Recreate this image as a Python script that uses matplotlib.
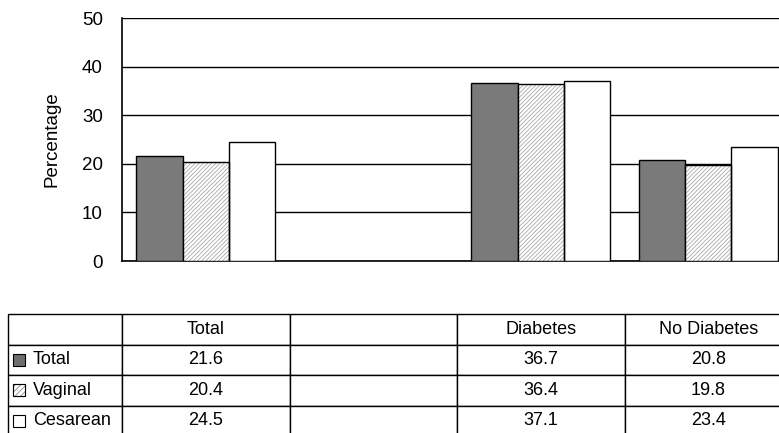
import numpy as np
import matplotlib
matplotlib.use("Agg")
import matplotlib.pyplot as plt
from matplotlib.patches import Rectangle

plt.rcParams['font.family'] = ['Liberation Sans', 'DejaVu Sans']
plt.rcParams['hatch.linewidth'] = 0.6

# Data
categories = ["Total", "", "Diabetes", "No Diabetes"]
series_names = ["Total", "Vaginal", "Cesarean"]
total_vals = [21.6, np.nan, 36.7, 20.8]
vaginal_vals = [20.4, np.nan, 36.4, 19.8]
cesarean_vals = [24.5, np.nan, 37.1, 23.4]
yticks = [0, 10, 20, 30, 40, 50]

W, H = 779, 433
fig = plt.figure(figsize=(W / 100, H / 100), dpi=100)

# plot area in pixel units (extends past the right edge of the canvas)
left_px, right_px, top_px, bot_px = 122, 792, 18, 261
ax = fig.add_axes([left_px / W, 1 - bot_px / H,
                   (right_px - left_px) / W, (bot_px - top_px) / H])

x = np.arange(len(categories))
bw = 0.2776
series = [total_vals, vaginal_vals, cesarean_vals]
offsets = [-bw, 0, bw]

ax.bar(x + offsets[0], total_vals, bw, color="#7a7a7a", edgecolor="black",
       linewidth=1, zorder=3)
ax.bar(x + offsets[1], vaginal_vals, bw, color="white", edgecolor="#a8a8a8",
       hatch="////////", linewidth=0, zorder=3)
ax.bar(x + offsets[1], vaginal_vals, bw, color="none", edgecolor="black",
       linewidth=1, zorder=4)
ax.bar(x + offsets[2], cesarean_vals, bw, color="white", edgecolor="black",
       linewidth=1, zorder=3)

ax.set_xlim(-0.5, len(categories) - 0.5)
ax.set_ylim(0, 50)
ax.set_yticks(yticks)
ax.set_yticklabels([str(t) for t in yticks], fontsize=13.5)
ax.tick_params(axis="y", length=0, pad=13.7)
ax.set_xticks([])
ax.yaxis.grid(True, color="black", linewidth=1)
ax.set_axisbelow(True)
for s in ["top", "right"]:
    ax.spines[s].set_visible(False)
ax.spines["left"].set_linewidth(1.2)
ax.spines["bottom"].set_linewidth(1.2)
ax.set_ylabel("Percentage", fontsize=13.5)
ax.yaxis.set_label_coords((60 - left_px) / (right_px - left_px), 0.5)

# data table below the plot
aw = right_px - left_px
ah = bot_px - top_px
tbl_left, tbl_top, row_h = 8, 314, 30.5
label_w = left_px - tbl_left
cell_text = [[""] + categories]
for name, vals in zip(series_names, series):
    cell_text.append([name] + ["" if np.isnan(v) else f"{v:.1f}" for v in vals])

col_w = [label_w / aw] + [1.0 / len(categories)] * len(categories)
tbl_h = 4 * row_h
tbl = ax.table(cellText=cell_text, colWidths=col_w, cellLoc="center",
               bbox=[(tbl_left - left_px) / aw, (bot_px - tbl_top - tbl_h) / ah,
                     sum(col_w), tbl_h / ah])
tbl.auto_set_font_size(False)
tbl.set_fontsize(13)
for (r, c), cell in tbl.get_celld().items():
    cell.set_edgecolor("black")
    cell.set_linewidth(1)
    cell.set_clip_on(False)
    if c == 0:
        cell._loc = "left"
        cell.get_text().set_horizontalalignment("left")
        cell.PAD = 25 / label_w

# legend swatches inside the row-label cells
sw_styles = [dict(facecolor="#6e6e6e", edgecolor="black"),
             dict(facecolor="white", edgecolor="#8a8a8a", hatch="//////"),
             dict(facecolor="white", edgecolor="black")]
sw = 12
for i, st in enumerate(sw_styles):
    cy = tbl_top + row_h * (i + 1) + row_h / 2
    x0 = (13 - left_px) / aw
    y0 = (bot_px - (cy + sw / 2)) / ah
    rect = Rectangle((x0, y0), sw / aw, sw / ah, transform=ax.transAxes,
                     clip_on=False, linewidth=0.8, zorder=5, **st)
    ax.add_patch(rect)
    if "hatch" in st:
        ax.add_patch(Rectangle((x0, y0), sw / aw, sw / ah, transform=ax.transAxes,
                               clip_on=False, facecolor="none", edgecolor="black",
                               linewidth=0.8, zorder=6))

fig.savefig("out.png", dpi=100)
